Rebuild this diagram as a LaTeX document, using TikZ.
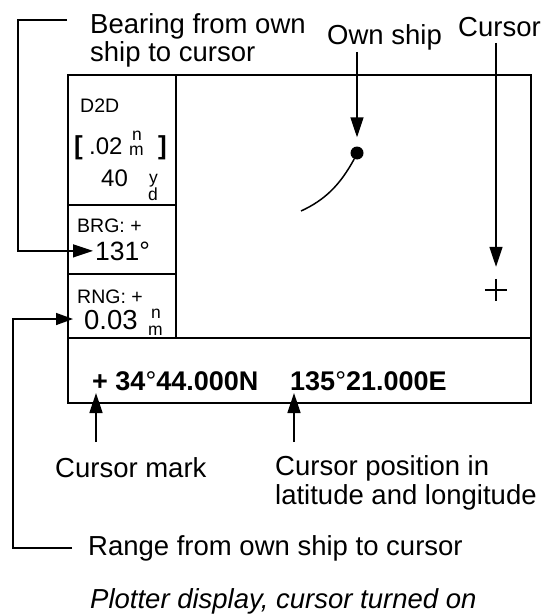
\documentclass[tikz,border=0pt]{standalone}
\usepackage{fontspec}
\setmainfont{Liberation Sans}
\usetikzlibrary{arrows.meta}
\begin{document}
\begin{tikzpicture}[x=1pt,y=-1pt,
  lbl/.style={inner sep=0pt, anchor=base west, font=\fontsize{27.5}{28.5}\selectfont, align=left},
  sm/.style={inner sep=0pt, anchor=base west, font=\fontsize{19.5}{20}\selectfont},
  big/.style={inner sep=0pt, anchor=base west, font=\fontsize{26.5}{27}\selectfont},
  mid/.style={inner sep=0pt, anchor=base west, font=\fontsize{24}{25}\selectfont},
  unitlbl/.style={inner sep=0pt, anchor=base west, font=\fontsize{17.5}{18}\selectfont},
  postxt/.style={inner sep=0pt, anchor=base west, font=\fontsize{27}{28}\selectfont\bfseries},
  frame/.style={line width=1.2pt},
  lead/.style={line width=1.5pt},
  arr/.style={-{Triangle[length=20pt,width=13pt]}},
  arrs/.style={-{Triangle[length=17pt,width=12pt]}}
]
\useasboundingbox (0,0) rectangle (552,615);

% display frame
\draw[frame] (68,75) rectangle (531,403);
\draw[frame] (68,338) -- (531,338);
\draw[frame] (176,75) -- (176,338);
\draw[frame] (68,205) -- (176,205);
\draw[frame] (68,274) -- (176,274);

% left panel texts
\node[sm] (d2d) at (80,113) {D2D};
\node[mid, font=\fontsize{26}{27}\selectfont\bfseries] (lb) at (74,154) {[};
\node[mid] (d2dval) at (89,154) {.02};
\node[unitlbl] (d2dn) at (132,140) {n};
\node[unitlbl] (d2dm) at (129,155) {m};
\node[mid, font=\fontsize{26}{27}\selectfont\bfseries] (rb) at (158,154) {]};
\node[mid] (yd) at (101,186) {40};
\node[unitlbl] (ydy) at (149,183) {y};
\node[unitlbl] (ydd) at (148,200) {d};
\node[sm] (brglbl) at (77,232) {BRG: +};
\node[big] (brg) at (95,260) {131\textdegree};
\node[sm] (rnglblin) at (77,303) {RNG: +};
\node[big, font=\fontsize{27.5}{28}\selectfont] (rng) at (84,329) {0.03};
\node[unitlbl] (rngn) at (151,318) {n};
\node[unitlbl] (rngm) at (148,335) {m};

% own ship and cursor
\node[circle, fill, inner sep=0pt, minimum size=13pt] (ship) at (357,153) {};
\draw[lead] (ship.-115) .. controls (340,185) and (325,200) .. (301,211);
\node[inner sep=0pt, minimum size=22pt] (cur) at (496,290) {};
\draw[line width=1.2pt] (cur.west) -- (cur.east) (cur.north) -- (cur.south);

% position line
\node[postxt] (pos1) at (92,390) {+ 34{\mdseries\textdegree}44.000N};
\node[postxt] (pos2) at (290,390) {135{\mdseries\textdegree}21.000E};

% labels
\node[lbl] (bearlbl) at (90,62) {Bearing from own\\ship to cursor};
\node[lbl] (ownlbl) at (327,45) {Own ship};
\node[lbl] (curlbl) at (458,37) {Cursor};
\node[lbl] (marklbl) at (55,477) {Cursor mark};
\node[lbl] (poslbl) at (275,504) {Cursor position in\\latitude and longitude};
\node[lbl] (rnglbl) at (88,555) {Range from own ship to cursor};
\node[lbl, font=\fontsize{27.5}{28.5}\selectfont\itshape] (caption) at (90,608) {Plotter display, cursor turned on};

% leaders
\coordinate (b1) at (67,20);
\coordinate (b2) at (18,20);
\draw[lead,arr,shorten >=2pt] (b1) -- (b2) |- (brg.west);

\coordinate (r1) at (72,548);
\coordinate (r2) at (13,319);
\draw[lead,arrs,shorten >=11pt] (r1) -| (r2) -- (rng.west |- r2);

\draw[lead,arr,shorten >=9pt] (ship |- 0,52) -- (ship.north);
\draw[lead,arr,shorten >=12pt] (cur |- 0,43) -- (cur.north);

\coordinate (m1) at (96,442);
\coordinate (m2) at (96,393);
\draw[lead,arr] (m1) -- (m2);
\coordinate (p1) at (294,442);
\coordinate (p2) at (294,393);
\draw[lead,arr] (p1) -- (p2);
\end{tikzpicture}
\end{document}
